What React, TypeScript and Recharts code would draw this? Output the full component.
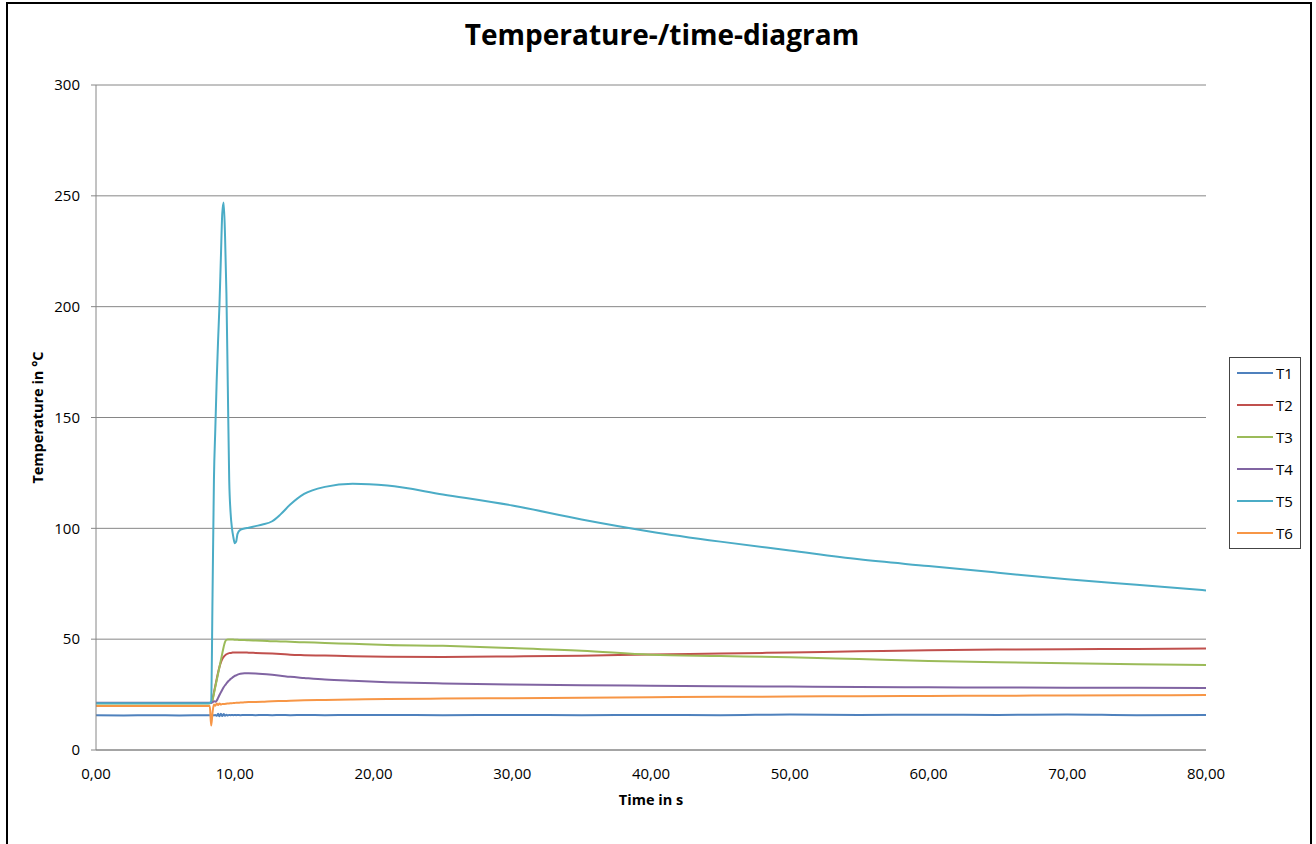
import { LineChart, Line, XAxis, YAxis, CartesianGrid, Legend } from "recharts"

// time in s
const time = [
  0, 2, 4, 6, 8, 8.2, 8.3, 8.4, 8.5, 8.6,
  8.7, 8.8, 8.9, 9.0, 9.1, 9.2, 9.3, 9.4, 9.5, 9.6,
  9.7, 9.8, 9.9, 10.0, 10.1, 10.2, 10.4, 10.7, 11, 11.5,
  12, 12.7, 13.3, 14, 15, 16.5, 18.5, 21, 25, 30,
  35, 40, 45, 50, 55, 60, 65, 70, 75, 80,
]

// temperatures in °C
const t1 = [
  15.7, 15.6, 15.7, 15.6, 15.7, 15.7, 15.6, 15.8, 15.6, 15.8,
  15.4, 16.3, 15.2, 16.4, 15.3, 16.2, 15.5, 15.9, 15.6, 15.8,
  15.7, 15.8, 15.7, 15.8, 15.7, 15.8, 15.7, 15.8, 15.8, 15.7,
  15.8, 15.7, 15.8, 15.7, 15.8, 15.7, 15.8, 15.8, 15.7, 15.8,
  15.7, 15.8, 15.7, 16.0, 15.8, 15.9, 15.8, 16.0, 15.7, 15.8,
]
const t2 = [
  21.2, 21.2, 21.2, 21.2, 21.2, 21.2, 21.5, 23, 26, 29,
  32, 35, 37.5, 39.5, 41, 42, 42.7, 43.2, 43.5, 43.7,
  43.8, 43.9, 44, 44, 44, 44, 44, 44, 43.9, 43.8,
  43.7, 43.5, 43.3, 43, 42.8, 42.6, 42.3, 42.1, 42, 42.2,
  42.5, 43.1, 43.5, 44, 44.5, 45, 45.3, 45.5, 45.6, 45.8,
]
const t3 = [
  21.0, 21.0, 21.0, 21.0, 21.0, 21.0, 21.5, 22.5, 25.5, 28.5,
  31.5, 34.5, 37.5, 40.5, 43.5, 46.5, 48.8, 49.7, 49.8, 49.8,
  49.8, 49.8, 49.8, 49.7, 49.7, 49.7, 49.6, 49.6, 49.5, 49.4,
  49.3, 49.1, 49, 48.8, 48.6, 48.3, 47.9, 47.4, 47, 46,
  44.8, 43, 42.4, 41.8, 41, 40.2, 39.6, 39.1, 38.7, 38.4,
]
const t4 = [
  21.3, 21.3, 21.3, 21.3, 21.3, 21.3, 21.2, 21.5, 22, 21.8,
  22.3, 23.5, 24.8, 26, 27.2, 28.3, 29.2, 30, 30.8, 31.4,
  32, 32.5, 33, 33.4, 33.7, 34, 34.4, 34.6, 34.6, 34.5,
  34.3, 33.9, 33.5, 33, 32.5, 31.8, 31.2, 30.6, 30, 29.5,
  29.2, 29, 28.8, 28.6, 28.4, 28.3, 28.2, 28.1, 28.1, 28,
]
const t5 = [
  21.1, 21.1, 21.1, 21.1, 21.1, 21.2, 22, 70, 122, 145,
  167, 185, 201, 222, 242, 247, 232, 206, 164, 122,
  107, 100, 96, 93.3, 94, 97.5, 99.3, 99.9, 100.3, 101,
  101.7, 103.2, 106.3, 110.7, 115.5, 118.7, 120.1, 119.3, 115.3, 110.3,
  104, 98.5, 94, 90, 86, 83, 80, 77, 74.5, 72,
]
const t6 = [
  19.9, 19.9, 19.9, 19.9, 19.9, 19.8, 11, 17, 20.5, 20,
  21, 20.3, 21, 20.5, 20.8, 20.7, 20.8, 20.9, 21, 21,
  21.1, 21.1, 21.2, 21.2, 21.3, 21.3, 21.4, 21.5, 21.6, 21.7,
  21.8, 22, 22.1, 22.2, 22.4, 22.6, 22.8, 23, 23.2, 23.4,
  23.6, 23.8, 24, 24.1, 24.3, 24.4, 24.5, 24.6, 24.7, 24.8,
]

const seriesNames = ["T1", "T2", "T3", "T4", "T5", "T6"]
const seriesColors = ["#4F81BD", "#C0504D", "#9BBB59", "#8064A2", "#4BACC6", "#F79646"]
const seriesValues = [t1, t2, t3, t4, t5, t6]

const xTicks = [0, 10, 20, 30, 40, 50, 60, 70, 80]
const yTicks = [0, 50, 100, 150, 200, 250, 300]

const font = "'Open Sans', sans-serif"

const data = time.map((t, i) => {
  const row: Record<string, number> = { t }
  seriesNames.forEach((name, s) => {
    row[name] = seriesValues[s][i]
  })
  return row
})

function LegendBox() {
  return (
    <div
      style={{
        width: 72,
        height: 192,
        border: "1px solid #444",
        boxSizing: "border-box",
        background: "#fff",
        fontFamily: font,
        fontSize: 15,
      }}
    >
      {seriesNames.map((name, i) => (
        <div key={name} style={{ height: 32, display: "flex", alignItems: "center", marginTop: i === 0 ? -1 : 0 }}>
          <div style={{ marginLeft: 7, width: 36, height: 2, background: seriesColors[i] }} />
          <span style={{ marginLeft: 3, color: "#000" }}>{name}</span>
        </div>
      ))}
    </div>
  )
}

export default function App() {
  return (
    <div style={{ position: "relative", width: 1316, height: 844, overflow: "hidden", background: "#fff" }}>
      <style>{`body{margin:0}`}</style>
      <div
        style={{
          position: "absolute",
          left: 6,
          top: 2,
          width: 1306,
          height: 880,
          border: "2px solid #000",
          boxSizing: "border-box",
        }}
      />
      <div
        style={{
          position: "absolute",
          top: 20,
          left: 0,
          width: 1324,
          textAlign: "center",
          fontFamily: font,
          fontWeight: 700,
          fontSize: 28,
          lineHeight: "28px",
          color: "#000",
        }}
      >
        Temperature-/time-diagram
      </div>
      <LineChart width={1316} height={844} data={data} margin={{ top: 85, right: 110, bottom: 0, left: 0 }}>
        <CartesianGrid vertical={false} stroke="#868686" />
        <XAxis
          dataKey="t"
          type="number"
          domain={[0, 80]}
          ticks={xTicks}
          tickFormatter={(v: number) => v.toFixed(2).replace(".", ",")}
          tickLine={false}
          tickSize={5}
          tickMargin={13}
          axisLine={{ stroke: "#868686" }}
          height={94}
          tick={{ fill: "#000", fontSize: 15, fontFamily: font }}
          label={{
            value: "Time in s",
            position: "insideBottom",
            offset: 39,
            style: { fontFamily: font, fontWeight: 700, fontSize: 14.5, fill: "#000" },
          }}
        />
        <YAxis
          type="number"
          domain={[0, 300]}
          ticks={yTicks}
          width={96}
          tickSize={5}
          tickMargin={11}
          tickLine={{ stroke: "#868686" }}
          axisLine={{ stroke: "#868686" }}
          tick={{ fill: "#000", fontSize: 15, fontFamily: font }}
          label={{
            value: "Temperature in °C",
            angle: -90,
            position: "insideLeft",
            offset: 38,
            style: { textAnchor: "middle", fontFamily: font, fontWeight: 700, fontSize: 14.5, fill: "#000" },
          }}
        />
        <Legend
          layout="vertical"
          align="center"
          verticalAlign="middle"
          wrapperStyle={{ left: 1229, top: 357, width: 72, height: 192 }}
          content={() => <LegendBox />}
        />
        {seriesNames.map((name, i) => (
          <Line
            key={name}
            type="monotone"
            dataKey={name}
            stroke={seriesColors[i]}
            strokeWidth={2}
            dot={false}
            activeDot={false}
            isAnimationActive={false}
          />
        ))}
      </LineChart>
    </div>
  )
}
